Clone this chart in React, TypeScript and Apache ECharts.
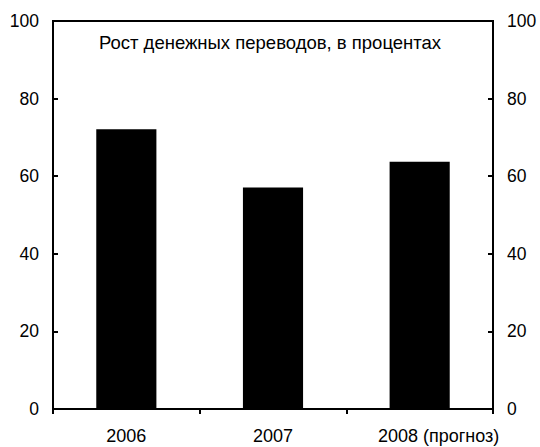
import React, { useEffect, useRef } from "react";
import * as echarts from "echarts";

const categories = ["2006", "2007", "2008 (прогноз)"];
const values = [72.1, 57.1, 63.7];
const titleText = "Рост денежных переводов, в процентах";

export default function App() {
  const ref = useRef<HTMLDivElement>(null);
  useEffect(() => {
    const chart = echarts.init(ref.current!, null, { renderer: "svg" });
    const font = "'Liberation Sans', Arial, sans-serif";
    const yAxisBase = {
      type: "value",
      min: 0,
      max: 100,
      interval: 20,
      splitLine: { show: false },
      axisLine: { show: true, lineStyle: { color: "#000", width: 2 } },
      axisTick: { show: true, inside: true, length: 5, lineStyle: { color: "#000", width: 2 } },
      axisLabel: { color: "#000", fontSize: 17.5, fontFamily: font, margin: 14 },
    };
    chart.setOption({
      animation: false,
      backgroundColor: "#fff",
      title: {
        text: titleText,
        left: "center",
        top: 33,
        padding: 0,
        textStyle: { color: "#000", fontSize: 18.5, fontWeight: "normal", fontFamily: font },
      },
      grid: {
        left: 53,
        right: 47,
        top: 21,
        bottom: 38,
        show: true,
        borderColor: "#000",
        borderWidth: 2,
        backgroundColor: "transparent",
      },
      xAxis: {
        type: "category",
        data: categories,
        boundaryGap: true,
        axisLine: { show: true, lineStyle: { color: "#000", width: 2 } },
        axisTick: {
          show: true,
          inside: false,
          length: 5,
          interval: 0,
          alignWithLabel: false,
          lineStyle: { color: "#000", width: 2 },
        },
        axisLabel: {
          color: "#000",
          fontSize: 18,
          fontFamily: font,
          margin: 18,
          interval: 0,
          hideOverlap: false,
          formatter: (v: string, i: number) =>
            i === categories.length - 1 ? `{shift|${v}}` : v,
          rich: {
            shift: { fontSize: 18, fontFamily: font, color: "#000", padding: [0, 0, 0, 38] },
          },
        },
      },
      yAxis: [
        { ...yAxisBase, position: "left" },
        { ...yAxisBase, position: "right" },
      ],
      series: [
        {
          type: "bar",
          data: values,
          barWidth: "41%",
          itemStyle: { color: "#000" },
          yAxisIndex: 0,
        },
      ],
    });
    return () => chart.dispose();
  }, []);
  return (
    <div
      ref={ref}
      style={{ position: "absolute", left: 0, top: 0, width: 540, height: 447 }}
    />
  );
}
